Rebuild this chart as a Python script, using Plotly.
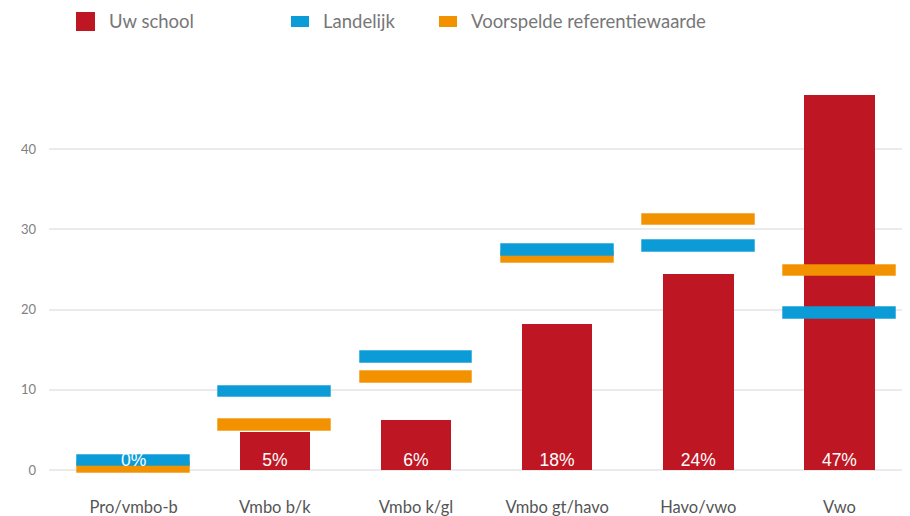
import plotly.graph_objects as go

# ---- data ----
categories = ["Pro/vmbo-b", "Vmbo b/k", "Vmbo k/gl", "Vmbo gt/havo", "Havo/vwo", "Vwo"]
uw_school = [0, 4.7, 6.2, 18.2, 24.4, 46.7]
landelijk = [1.2, 9.8, 14.1, 27.4, 27.95, 19.6]
voorspeld = [0.3, 5.6, 11.6, 26.5, 31.2, 24.9]
series_names = ["Uw school", "Landelijk", "Voorspelde referentiewaarde"]
y_ticks = [0, 10, 20, 30, 40]

# ---- style ----
RED = "#BE1622"
BLUE = "#0B9CD8"
ORANGE = "#F39200"
LINE_THICK = 1.43  # thickness of the reference markers in data units
OFF = 8  # page body margin of the browser
W, H = 910 - OFF, 516 - OFF
# plot area in page pixels: left 49, right 910, top 85, bottom 482
ML, MT = 49 - OFF, 85 - OFF
MR = 0
MB = H - (482 - OFF)
PW, PH = W - ML - MR, H - MT - MB

labels = [f"{round(v)}%" for v in uw_school]

fig = go.Figure()
fig.add_trace(go.Bar(x=categories, y=uw_school, width=0.5, marker=dict(color=RED, line=dict(width=0)),
                     name=series_names[0], showlegend=False))
fig.add_trace(go.Bar(x=categories, y=[LINE_THICK] * len(voorspeld),
                     base=[v - LINE_THICK / 2 for v in voorspeld], width=0.8,
                     marker=dict(color=ORANGE, line=dict(color="rgba(243,146,0,0.45)", width=1)),
                     name=series_names[2], showlegend=False))
fig.add_trace(go.Bar(x=categories, y=[LINE_THICK] * len(landelijk),
                     base=[v - LINE_THICK / 2 for v in landelijk], width=0.8,
                     marker=dict(color=BLUE, line=dict(color="rgba(11,156,216,0.45)", width=1)),
                     name=series_names[1], showlegend=False))
fig.add_trace(go.Scatter(x=categories, y=[0] * len(categories), mode="text", text=labels,
                         textposition="top center",
                         textfont=dict(family="Liberation Sans, Arial", size=17.5, color="white"),
                         showlegend=False, hoverinfo="skip"))

# ---- manual legend (positions given in page pixels) ----
def px_x(px):
    return (px - OFF - ML) / PW

def px_y(py):
    return (MT + PH - (py - OFF)) / PH

legend_items = [
    (series_names[0], RED, 76, 19, 19, 107),
    (series_names[1], BLUE, 291, 18, 11, 321),
    (series_names[2], ORANGE, 439, 18, 11, 469),
]
for name, col, sx, sw, sh, tx in legend_items:
    fig.add_shape(type="rect", xref="paper", yref="paper",
                  xsizemode="pixel", ysizemode="pixel",
                  xanchor=px_x(sx), yanchor=px_y(21.5),
                  x0=0, x1=sw, y0=-sh / 2, y1=sh / 2,
                  fillcolor=col, line=dict(width=0))
    fig.add_annotation(text=name, xref="paper", yref="paper", x=px_x(tx), y=px_y(21.5),
                       xanchor="left", yanchor="middle", showarrow=False,
                       font=dict(family="Lato", size=18.5, color="#777777"))

fig.update_layout(
    width=W, height=H,
    margin=dict(l=ML, r=MR, t=MT, b=MB, autoexpand=False),
    barmode="overlay",
    bargap=0,
    plot_bgcolor="white", paper_bgcolor="white",
    showlegend=False,
    xaxis=dict(range=[-0.6, 5.5], showgrid=False, showline=False, zeroline=False, automargin=False,
               ticks="", ticklabelstandoff=13,
               tickfont=dict(family="Lato", size=16.5, color="#555555")),
    yaxis=dict(range=[-1.5, 48], tickvals=y_ticks, showgrid=True, gridcolor="#EBEBEB", gridwidth=2,
               zeroline=True, zerolinecolor="#EBEBEB", zerolinewidth=2, showline=False, automargin=False,
               ticks="", ticklabelstandoff=12,
               tickfont=dict(family="Lato", size=13, color="#808080")),
)

fig.write_html("out.html")
